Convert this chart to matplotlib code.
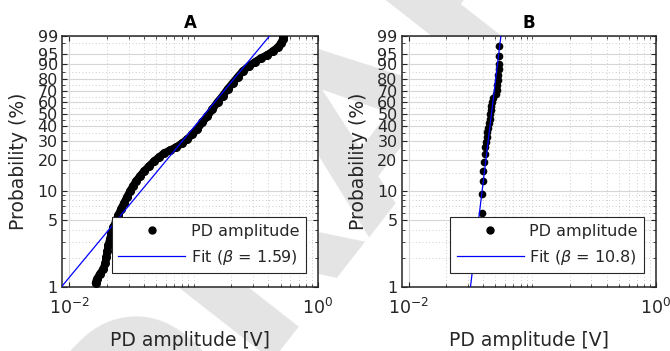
import numpy as np
import matplotlib
matplotlib.use("Agg")
import matplotlib.pyplot as plt
from matplotlib.ticker import FixedLocator, FixedFormatter, NullFormatter
from matplotlib.lines import Line2D

plt.rcParams['font.family'] = ['DejaVu Sans']
plt.rcParams['mathtext.fontset'] = 'dejavusans'

# ---------------- data ----------------
# Panel A: PD amplitude [V] and plotting probability [%]
amp_a = [0.01628, 0.01668, 0.01764, 0.01883, 0.01954, 0.01991, 0.02029, 0.02067,
         0.02126, 0.02186, 0.02269, 0.02376, 0.02489, 0.02608, 0.02758, 0.02916,
         0.03084, 0.03261, 0.03449, 0.03715, 0.04003, 0.04393, 0.04819, 0.05290,
         0.05805, 0.06493, 0.07261, 0.08119, 0.08912, 0.09779, 0.1073, 0.1178,
         0.1293, 0.1419, 0.1557, 0.1709, 0.1876, 0.2059, 0.2259, 0.2480,
         0.2773, 0.3101, 0.3467, 0.3878, 0.4335, 0.4760, 0.5031, 0.5222, 0.5222]
prob_a = [1.10, 1.21, 1.37, 1.55, 1.79, 2.07, 2.39, 2.76,
          3.19, 3.68, 4.25, 4.90, 5.65, 6.51, 7.50, 8.63,
          9.92, 11.14, 12.49, 13.99, 15.65, 17.49, 19.52, 21.30,
          23.20, 24.73, 26.33, 28.61, 31.03, 34.28, 37.75, 43.02,
          47.85, 53.80, 59.99, 65.37, 71.57, 76.68, 81.46, 85.79,
          88.97, 91.20, 93.14, 94.40, 95.83, 96.99, 97.90, 98.59, 98.98]
beta_a = 1.59
eta_a = 0.156

# Panel B
amp_b = [0.03900, 0.03900, 0.03997, 0.03997, 0.04049, 0.04125, 0.04148, 0.04202,
         0.04257, 0.04305, 0.04386, 0.04418, 0.04501, 0.04527, 0.04586, 0.04638,
         0.04700, 0.04815, 0.05064, 0.05130, 0.05188, 0.05256, 0.05286, 0.05325,
         0.05354, 0.05354, 0.05354]
prob_b = [5.89, 9.19, 12.49, 15.75, 19.23, 22.57, 26.50, 29.37,
          32.49, 35.85, 38.26, 42.00, 45.40, 49.27, 52.93, 56.43,
          60.26, 63.30, 67.15, 70.70, 75.01, 79.12, 82.96, 86.92,
          90.50, 94.00, 97.31]
beta_b = 10.8
eta_b = 0.0482

titles = ['A', 'B']
x_label = 'PD amplitude [V]'
y_label = 'Probability (%)'
legend_labels = ['PD amplitude', 'Fit ($\\beta$ = {:.3g})']
y_ticks = [1, 5, 10, 20, 30, 40, 50, 60, 70, 80, 90, 95, 99]
y_minor = [2, 3, 4, 6, 7, 8, 9, 15, 25, 35, 45, 55, 65, 75, 85, 98]
x_ticks = [1e-2, 1e0]
x_ticklabels = ['$10^{-2}$', '$10^{0}$']
x_minor = [k * 10.0 ** e for e in (-2, -1) for k in range(1, 10) if not (k == 1 and e == -2)]
x_limits = (0.00875, 1.0)
y_limits = (1, 99)

# ---------------- Weibull probability scale ----------------
def wfwd(p):
    p = np.clip(np.asarray(p, dtype=float), 1e-9, 100 - 1e-9)
    return np.log(-np.log(1.0 - p / 100.0))

def winv(w):
    w = np.asarray(w, dtype=float)
    return 100.0 * (1.0 - np.exp(-np.exp(w)))

TXT = '#262626'
fig = plt.figure(figsize=(6.7, 3.51), dpi=100)

# faint watermark behind the axes
fig.text(0.52, 0.62, 'DRAFT', fontsize=165, fontweight='bold', color='#e4e4e4',
         rotation=52, ha='center', va='center', zorder=-5)

positions = [[0.0925, 0.1823, 0.3821, 0.7151], [0.5996, 0.1823, 0.3796, 0.7151]]
datasets = [(amp_a, prob_a, beta_a, eta_a), (amp_b, prob_b, beta_b, eta_b)]

for i, (pos, (amp, prob, beta, eta)) in enumerate(zip(positions, datasets)):
    ax = fig.add_axes(pos)
    ax.set_facecolor('white')
    ax.set_xscale('log')
    ax.set_yscale('function', functions=(wfwd, winv))
    ax.set_xlim(*x_limits)
    ax.set_ylim(*y_limits)

    # fit line from Weibull parameters
    pf = np.linspace(0.5, 99.9, 60)
    xf = eta * (-np.log(1 - pf / 100.0)) ** (1.0 / beta)
    ax.plot(xf, pf, color='#0000ff', lw=0.9, zorder=4)

    if i == 0:
        ax.plot(amp, prob, color='black', lw=5.5, solid_capstyle='round',
                solid_joinstyle='round', zorder=3)
        ax.plot(amp, prob, 'o', color='black', ms=5.5, zorder=3)
    else:
        ax.plot(amp, prob, 'o', color='black', ms=4.5, zorder=3)

    ax.yaxis.set_major_locator(FixedLocator(y_ticks))
    ax.yaxis.set_major_formatter(FixedFormatter([str(v) for v in y_ticks]))
    ax.yaxis.set_minor_locator(FixedLocator(y_minor))
    ax.yaxis.set_minor_formatter(NullFormatter())
    ax.xaxis.set_major_locator(FixedLocator(x_ticks))
    ax.xaxis.set_major_formatter(FixedFormatter(x_ticklabels))
    ax.xaxis.set_minor_locator(FixedLocator(x_minor))
    ax.xaxis.set_minor_formatter(NullFormatter())

    ax.grid(which='major', color='#d6d6d6', lw=0.8, ls='-')
    ax.grid(which='minor', color='#bdbdbd', lw=0.6, ls=(0, (1, 3)))
    ax.set_axisbelow(True)

    ax.tick_params(which='both', direction='in', top=True, right=True,
                   color=TXT, labelcolor=TXT, labelsize=11.5)
    ax.tick_params(which='major', length=3.5, width=0.8)
    ax.tick_params(which='minor', length=2.0, width=0.6)
    ax.tick_params(axis='y', pad=3)
    ax.tick_params(axis='x', pad=8, labelsize=12.5)
    for s in ax.spines.values():
        s.set_color(TXT)
        s.set_linewidth(1.1)

    ax.set_title(titles[i], fontweight='bold', fontsize=12, pad=6, color='black')
    ax.set_xlabel(x_label, fontsize=13.5, color=TXT)
    ax.set_ylabel(y_label, fontsize=13.5, color=TXT)
    ax.xaxis.set_label_coords(0.5, -0.175)
    ax.yaxis.set_label_coords(-0.133, 0.5)

    handles = [Line2D([], [], ls='none', marker='o', color='black', ms=5),
               Line2D([], [], color='#0000ff', lw=0.9)]
    leg = ax.legend(handles, [legend_labels[0], legend_labels[1].format(beta)],
                    loc='lower right', bbox_to_anchor=(0.953, 0.056), borderaxespad=0,
                    fontsize=11.5, handlelength=4.2, handletextpad=0.35,
                    borderpad=0.4, labelspacing=0.55, fancybox=False,
                    framealpha=1, edgecolor=TXT)
    leg.get_frame().set_linewidth(0.8)
    for t in leg.get_texts():
        t.set_color(TXT)
    leg.set_zorder(10)

fig.savefig('out.png', dpi=100)
